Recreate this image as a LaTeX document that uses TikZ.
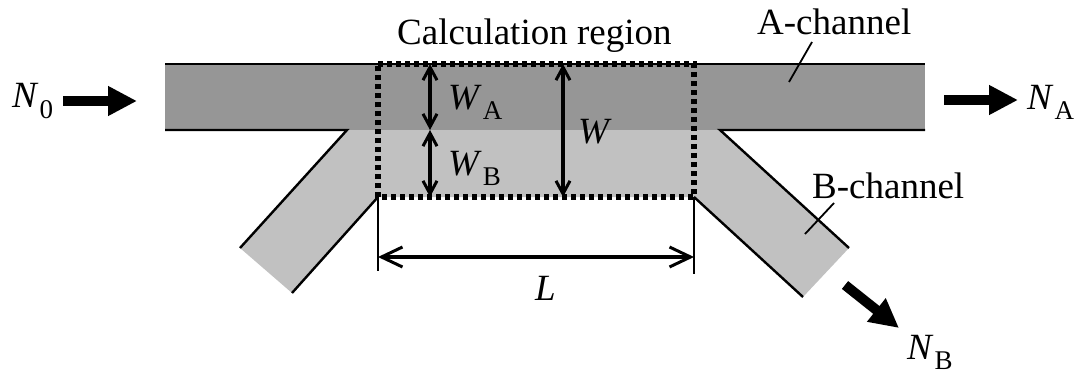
\documentclass[tikz,border=0pt]{standalone}
\usepackage{fontspec}
\setmainfont{Liberation Serif}
\usetikzlibrary{arrows.meta}
\definecolor{darkch}{RGB}{150,150,150}
\definecolor{lightch}{RGB}{193,193,193}
\newcommand{\lbl}[2]{\textit{#1}\kern1pt\raisebox{-10pt}{\fontsize{27}{29}\selectfont #2}}
\begin{document}
\begin{tikzpicture}[x=1pt,y=-1pt,
  wall/.style={line width=2.4pt, line join=miter},
  dimarrow/.style={line width=3.4pt, {Straight Barb[length=13pt,width=14pt,line width=3pt]}-{Straight Barb[length=13pt,width=14pt,line width=3pt]}},
  ldim/.style={line width=3.6pt, {Straight Barb[length=21pt,width=20pt,line width=3pt]}-{Straight Barb[length=21pt,width=20pt,line width=3pt]}},
  ext/.style={line width=1.3pt},
  flow/.style={line width=10pt, -{Triangle[length=29pt,width=28pt]}},
  txt/.style={font=\fontsize{37}{40}\selectfont, inner sep=0pt, anchor=base west},
  region/.style={line width=5.2pt, dash pattern=on 5pt off 4pt},
  leader/.style={line width=1.8pt}]
\useasboundingbox (0,0) rectangle (1078,377);
% coordinates
\coordinate (tl) at (165,64);
\coordinate (tr) at (925,64);
\coordinate (bl) at (165,130);
\coordinate (br) at (925,130);
\coordinate (jl) at (347,130);
\coordinate (jr) at (720,130);
\coordinate (c1) at (378,64);
\coordinate (c2) at (694,64);
\coordinate (c3) at (694,197);
\coordinate (c4) at (378,197);
\coordinate (lb1) at (240,248);
\coordinate (lb2) at (292,293);
\coordinate (rb1) at (849,248);
\coordinate (rb2) at (803,297);
% fills
\fill[lightch] (jl) -- (lb1) -- (lb2) -- (c4) -- (c3) -- (rb2) -- (rb1) -- (jr) -- cycle;
\fill[darkch] (tl) rectangle (br);
% walls
\draw[wall] (tl) -- (tr);
\draw[wall] (bl) -- (jl) -- (lb1);
\draw[wall] (lb2) -- (c4);
\draw[wall] (c3) -- (rb2);
\draw[wall] (rb1) -- (jr) -- (br);
% calculation region
\draw[region] (c1) -- (c2) -- (c3) -- (c4) -- cycle;
% dimension arrows
\coordinate (wa1) at (430,64);
\coordinate (wa2) at (430,130);
\coordinate (wb2) at (430,197);
\coordinate (w1) at (563,64);
\coordinate (w2) at (563,197);
\draw[dimarrow] (wa1) -- (wa2);
\draw[dimarrow] (wa2) -- (wb2);
\draw[dimarrow] (w1) -- (w2);
\coordinate (e1) at (378,271);
\coordinate (e2) at (694,274);
\coordinate (l1) at (378,257);
\coordinate (l2) at (694,257);
\draw[ext] (c4) -- (e1);
\draw[ext] (c3) -- (e2);
\draw[ldim] (l1) -- (l2);
% labels
\node[txt] (calc) at (397,45) {Calculation region};
\node[txt] (achtxt) at (757,35) {A-channel};
\node[txt] (bchtxt) at (812,198) {B-channel};
\node[txt] (wa) at (448,110) {\lbl{W}{A}};
\node[txt] (wb) at (448,175) {\lbl{W}{B}};
\node[txt] (w) at (578,143) {\textit{W}};
\node[txt] (l) at (535,300) {\textit{L}};
\node[txt] (n0) at (12,108) {\lbl{N}{0}};
\node[txt] (na) at (1027,110) {\lbl{N}{A}};
\node[txt] (nb) at (907,359) {\lbl{N}{B}};
% leaders
\coordinate (la1) at (789,82);
\coordinate (la2) at (812,42);
\coordinate (lb1x) at (805,234);
\coordinate (lb2x) at (834,203);
\draw[leader] (la1) -- (la2);
\draw[leader] (lb1x) -- (lb2x);
% flow arrows
\coordinate (f0a) at (63,101);
\coordinate (f0b) at (137,101);
\coordinate (fab) at (944,100);
\coordinate (fae) at (1018,100);
\coordinate (fbb) at (845,285);
\coordinate (fbe) at (899,328);
\draw[flow] (f0a) -- (f0b);
\draw[flow] (fab) -- (fae);
\draw[flow] (fbb) -- (fbe);
\end{tikzpicture}
\end{document}
